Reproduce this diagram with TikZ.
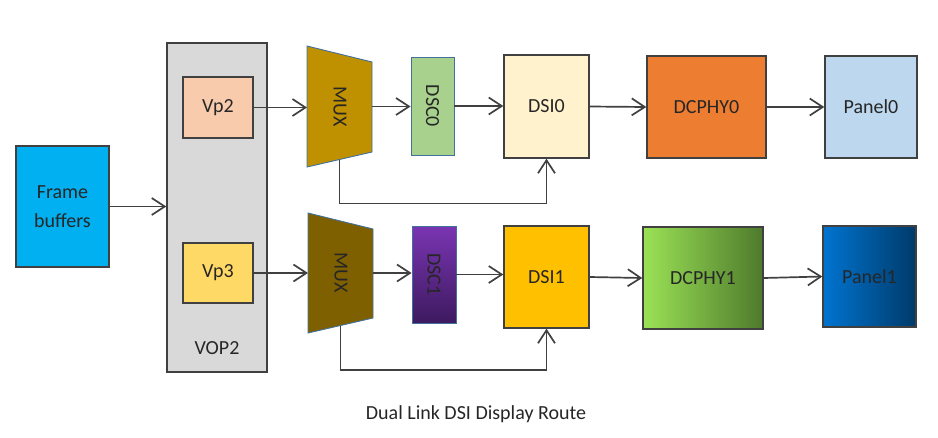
\documentclass[tikz,border=0pt]{standalone}
\usepackage{fontspec}
\setmainfont{Carlito}
\usetikzlibrary{arrows.meta,calc}
\definecolor{bordc}{HTML}{404040}
\definecolor{txtc}{HTML}{262626}
\definecolor{fbc}{HTML}{00B0F0}
\definecolor{vopc}{HTML}{D9D9D9}
\definecolor{vptwoc}{HTML}{F8CBAD}
\definecolor{vpthreec}{HTML}{FFD966}
\definecolor{muxac}{HTML}{BF9000}
\definecolor{muxbc}{HTML}{7F6000}
\definecolor{muxbord}{HTML}{41719C}
\definecolor{dscac}{HTML}{A9D18E}
\definecolor{dscbtop}{HTML}{7A35B2}
\definecolor{dscbbot}{HTML}{3D1A60}
\definecolor{dsiac}{HTML}{FFF2CC}
\definecolor{dsibc}{HTML}{FFC000}
\definecolor{phyac}{HTML}{ED7D31}
\definecolor{phybl}{HTML}{9BE256}
\definecolor{phybr}{HTML}{4E7A2C}
\definecolor{panac}{HTML}{BDD7EE}
\definecolor{panbl}{HTML}{0074D0}
\definecolor{panbr}{HTML}{003A6A}
\begin{document}
\begin{tikzpicture}[x=1pt,y=-1pt,
  lbl/.style={text=txtc,font=\fontsize{20}{24}\selectfont,inner sep=0pt},
  box/.style={lbl,draw=bordc,line width=1.4pt,align=center},
  frame/.style={inner sep=0pt,outer sep=0pt},
  arr/.style={draw=bordc,line width=1.7pt,-{Straight Barb[length=13pt,width=17pt,line width=1.7pt]}},
  thinbox/.style={draw=muxbord,line width=0.9pt,inner sep=0pt}]
\useasboundingbox (0,0) rectangle (938,437);

% Frame buffers and VOP2
\node[box,fill=fbc,minimum width=93pt,minimum height=121pt] (fb) at (62.5,206.5) {Frame\\[5pt]buffers};
\node[box,fill=vopc,minimum width=100pt,minimum height=329pt] (vop) at (217,207.5) {};
\node[lbl] (voplbl) at (217,348) {VOP2};
\node[box,fill=vptwoc,minimum width=70pt,minimum height=61pt] (vp2) at (218,107.5) {Vp2};
\node[box,fill=vpthreec,minimum width=70pt,minimum height=60pt] (vp3) at (218,273) {Vp3};

% MUX frames
\node[frame,minimum width=65pt,minimum height=121pt] (mux0) at (339.5,106.5) {};
\node[frame,minimum width=65pt,minimum height=120pt] (mux1) at (340.5,273) {};
\filldraw[fill=muxac,draw=muxbord,line width=0.9pt] (mux0.north west) -- ($(mux0.north east)+(0,16)$) -- ($(mux0.south east)+(0,-15)$) -- (mux0.south west) -- cycle;
\filldraw[fill=muxbc,draw=muxbord,line width=0.9pt] (mux1.north west) -- ($(mux1.north east)+(0,16)$) -- ($(mux1.south east)+(0,-15)$) -- (mux1.south west) -- cycle;
\node[lbl,rotate=-90] (mux0t) at (340,106.5) {MUX};
\node[lbl,rotate=-90] (mux1t) at (341,273) {MUX};
\coordinate (mux0b) at ($(mux0.south)+(0,-7.5)$);
\coordinate (mux1b) at ($(mux1.south)+(0,-7.5)$);

% DSC
\node[thinbox,fill=dscac,minimum width=43pt,minimum height=98pt] (dsc0) at (432.5,106) {};
\node[lbl,rotate=-90] (dsc0t) at (dsc0) {DSC0};
\node[thinbox,top color=dscbtop,bottom color=dscbbot,minimum width=44pt,minimum height=97pt] (dsc1) at (434,274.5) {};
\node[lbl,rotate=-90] (dsc1t) at (dsc1) {DSC1};

% DSI, DCPHY, Panels
\node[box,fill=dsiac,minimum width=85pt,minimum height=103pt] (dsi0) at (546.5,106.5) {DSI0};
\node[box,fill=dsibc,minimum width=85pt,minimum height=102pt] (dsi1) at (546.5,277) {DSI1};
\node[box,fill=phyac,minimum width=119pt,minimum height=102pt] (phy0) at (706.5,107) {DCPHY0};
\node[box,left color=phybl,right color=phybr,minimum width=120pt,minimum height=102pt] (phy1) at (703,278) {DCPHY1};
\node[box,fill=panac,minimum width=92pt,minimum height=102pt] (pan0) at (871,107) {Panel0};
\node[box,left color=panbl,right color=panbr,minimum width=93pt,minimum height=101pt] (pan1) at (869.5,276.5) {Panel1};

% connectors
\draw[arr] (fb.east) -- (fb.east -| vop.west);
\draw[arr] (vp2.east) -- (vp2.east -| mux0.west);
\draw[arr] (vp3.east) -- (vp3.east -| mux1.west);
\draw[arr] (mux0.east) -- (mux0.east -| dsc0.west);
\draw[arr] (mux1.east) -- (mux1.east -| dsc1.west);
\draw[arr] (dsc0.east) -- (dsc0.east -| dsi0.west);
\draw[arr] (dsc1.east) -- (dsc1.east -| dsi1.west);
\draw[arr] (dsi0.east) -- (phy0.west);
\draw[arr] (dsi1.east) -- (phy1.west);
\draw[arr] (phy0.east) -- (pan0.west);
\draw[arr] (phy1.east) -- (pan1.west);
\draw[arr] (mux0b) -- ++(0,44) -| (dsi0.south);
\draw[arr] (mux1b) -- ++(0,44.5) -| (dsi1.south);

% caption
\node[lbl] (cap) at (476,414) {Dual Link DSI Display Route};
\end{tikzpicture}
\end{document}
